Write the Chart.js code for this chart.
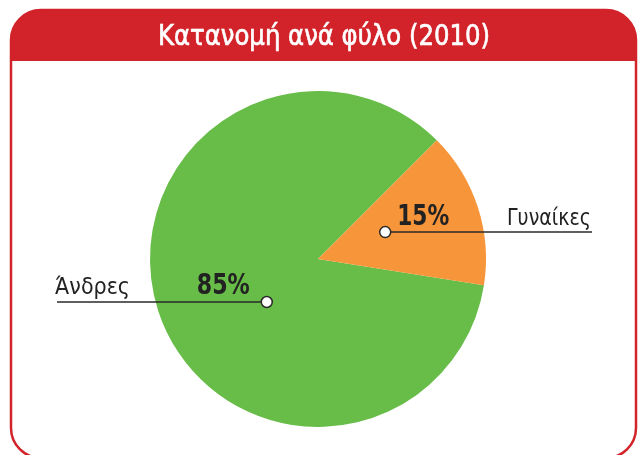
<!DOCTYPE html>
<html>
<head>
<meta charset="utf-8">
<script src="https://cdn.jsdelivr.net/npm/chart.js@4"></script>
<style>
  html, body { margin: 0; padding: 0; background: #fff; }
  canvas { display: block; }
</style>
</head>
<body>
<canvas id="genderChart" width="638" height="455"></canvas>
<script>
// Δεδομένα
const title = "Κατανομή ανά φύλο (2010)";
const categories = ["Άνδρες", "Γυναίκες"];
const shares = [85, 15];
const sliceColors = ["#67bd48", "#f7953a"];

const FONT = '"DejaVu Sans", "Noto Sans", sans-serif';

// κείμενο συμπιεσμένο οριζόντια ώστε να πιάνει το πλάτος που θέλουμε
function fitText(ctx, text, x, y, width, font, stroke) {
  ctx.font = font;
  const w = ctx.measureText(text).width;
  ctx.save();
  ctx.translate(x, y);
  ctx.scale(width / w, 1);
  ctx.fillText(text, 0, 0);
  if (stroke) {
    ctx.strokeStyle = ctx.fillStyle;
    ctx.lineWidth = stroke;
    ctx.strokeText(text, 0, 0);
  }
  ctx.restore();
}

// πλαίσιο με κόκκινη κεφαλίδα
const framePlugin = {
  id: "frame",
  beforeDraw(chart) {
    const ctx = chart.ctx;
    const x = 11, y = 10, w = 625, h = 448, r = 30, head = 51;
    ctx.save();
    ctx.fillStyle = "#d2232a";
    ctx.beginPath();
    ctx.roundRect(x, y, w, head + r, [r, r, 0, 0]);
    ctx.fill();
    ctx.fillStyle = "#fff";
    ctx.fillRect(x, y + head, w, r + 1);
    ctx.strokeStyle = "#d2232a";
    ctx.lineWidth = 2.5;
    ctx.beginPath();
    ctx.roundRect(x, y, w, h, r);
    ctx.stroke();
    ctx.fillStyle = "#fff";
    ctx.textBaseline = "alphabetic";
    fitText(ctx, title, 158, 45, 332, "29px " + FONT, 0.7);
    ctx.restore();
  }
};

// ετικέτες με γραμμή και κουκκίδα
const calloutPlugin = {
  id: "callouts",
  afterDatasetsDraw(chart) {
    const ctx = chart.ctx;
    const arcs = chart.getDatasetMeta(0).data;
    const layout = [
      { dx: -0.305, dy: 0.256, lineTo: 57, side: "left" },
      { dx: 0.40, dy: -0.16, lineTo: 592, side: "right" }
    ];
    ctx.save();
    arcs.forEach((arc, i) => {
      const L = layout[i];
      const r = arc.outerRadius;
      const mx = arc.x + L.dx * r;
      const my = arc.y + L.dy * r;
      ctx.strokeStyle = "#2a2a2a";
      ctx.lineWidth = 1.5;
      ctx.beginPath();
      ctx.moveTo(L.lineTo, my);
      ctx.lineTo(mx, my);
      ctx.stroke();
      ctx.fillStyle = "#fff";
      ctx.beginPath();
      ctx.arc(mx, my, 5.5, 0, Math.PI * 2);
      ctx.fill();
      ctx.stroke();

      ctx.fillStyle = "#222";
      const pct = shares[i] + "%";
      if (L.side === "left") {
        fitText(ctx, categories[i], 55, my - 8, 75, "23px " + FONT);
        fitText(ctx, pct, mx - 70, my - 8, 53, "bold 28px " + FONT);
      } else {
        fitText(ctx, pct, mx + 12, my - 7, 52, "bold 28px " + FONT);
        fitText(ctx, categories[i], 507, my - 7, 84, "23px " + FONT);
      }
    });
    ctx.restore();
  }
};

new Chart(document.getElementById("genderChart"), {
  type: "pie",
  data: {
    labels: categories,
    datasets: [{
      data: shares,
      backgroundColor: sliceColors,
      borderWidth: 0
    }]
  },
  options: {
    responsive: false,
    animation: false,
    rotation: 99,
    layout: { padding: { left: 150, right: 152, top: 91, bottom: 28 } },
    plugins: {
      legend: { display: false },
      tooltip: { enabled: false }
    }
  },
  plugins: [framePlugin, calloutPlugin]
});
</script>
</body>
</html>
